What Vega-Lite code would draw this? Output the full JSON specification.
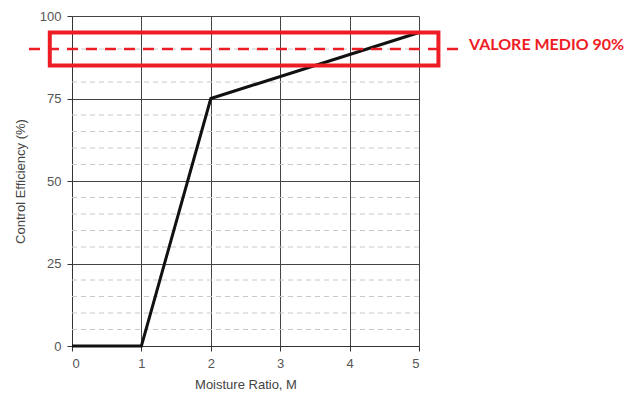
{
  "$schema": "https://vega.github.io/schema/vega-lite/v6.json",
  "autosize": {"type": "none"},
  "width": 347,
  "height": 330,
  "padding": {"left": 72, "top": 16, "right": 209, "bottom": 48},
  "background": "white",
  "config": {
    "view": {"stroke": null},
    "axis": {
      "labelFont": "Liberation Sans",
      "titleFont": "Liberation Sans",
      "labelFontSize": 13,
      "titleFontSize": 13,
      "titleFontWeight": "normal",
      "labelColor": "#555",
      "titleColor": "#444",
      "domainColor": "#333",
      "tickColor": "#333",
      "gridColor": "#444",
      "gridOpacity": 1,
      "gridWidth": 1,
      "tickSize": 5
    }
  },
  "datasets": {
    "curve": [
      {"M": 0, "eff": 0},
      {"M": 1, "eff": 0},
      {"M": 2, "eff": 75},
      {"M": 5, "eff": 95}
    ],
    "minor": [
      {"v": 5}, {"v": 10}, {"v": 15}, {"v": 20},
      {"v": 30}, {"v": 35}, {"v": 40}, {"v": 45},
      {"v": 55}, {"v": 60}, {"v": 65}, {"v": 70},
      {"v": 80}, {"v": 85}, {"v": 90}, {"v": 95}
    ],
    "box": [{"x1": -0.32, "x2": 5.28, "y1": 85, "y2": 95}],
    "ref": [{"x1": -0.62, "x2": 5.6, "y": 90, "tx": 5.72, "label": "VALORE MEDIO 90%"}]
  },
  "layer": [
    {
      "data": {"name": "minor"},
      "mark": {"type": "rule", "color": "#c8c8c8", "strokeDash": [5, 4], "strokeWidth": 1},
      "encoding": {
        "y": {
          "field": "v", "type": "quantitative",
          "scale": {"domain": [0, 100], "nice": false},
          "axis": {"values": [0, 25, 50, 75, 100], "title": "Control Efficiency (%)", "format": "d", "labelPadding": 6, "titlePadding": 12, "grid": true}
        }
      }
    },
    {
      "data": {"name": "curve"},
      "mark": {"type": "line", "color": "#111", "strokeWidth": 3},
      "encoding": {
        "x": {
          "field": "M", "type": "quantitative",
          "scale": {"domain": [0, 5], "nice": false},
          "axis": {"values": [0, 1, 2, 3, 4, 5], "format": "d", "title": "Moisture Ratio, M", "labelPadding": 6, "titlePadding": 8, "grid": true}
        },
        "y": {"field": "eff", "type": "quantitative"}
      }
    },
    {
      "data": {"name": "box"},
      "mark": {"type": "rect", "fill": null, "fillOpacity": 0, "stroke": "#ee1c25", "strokeWidth": 4},
      "encoding": {
        "x": {"field": "x1", "type": "quantitative"},
        "x2": {"field": "x2"},
        "y": {"field": "y1", "type": "quantitative"},
        "y2": {"field": "y2"}
      }
    },
    {
      "data": {"name": "ref"},
      "mark": {"type": "rule", "color": "#ee1c25", "strokeWidth": 2.5, "strokeDash": [11, 8]},
      "encoding": {
        "x": {"field": "x1", "type": "quantitative"},
        "x2": {"field": "x2"},
        "y": {"field": "y", "type": "quantitative"}
      }
    },
    {
      "data": {"name": "ref"},
      "mark": {"type": "text", "color": "#ee1c25", "font": "Lato", "fontWeight": "bold", "fontSize": 16, "align": "left", "baseline": "middle", "dy": -4},
      "encoding": {
        "x": {"field": "tx", "type": "quantitative"},
        "y": {"field": "y", "type": "quantitative"},
        "text": {"field": "label"}
      }
    }
  ]
}
